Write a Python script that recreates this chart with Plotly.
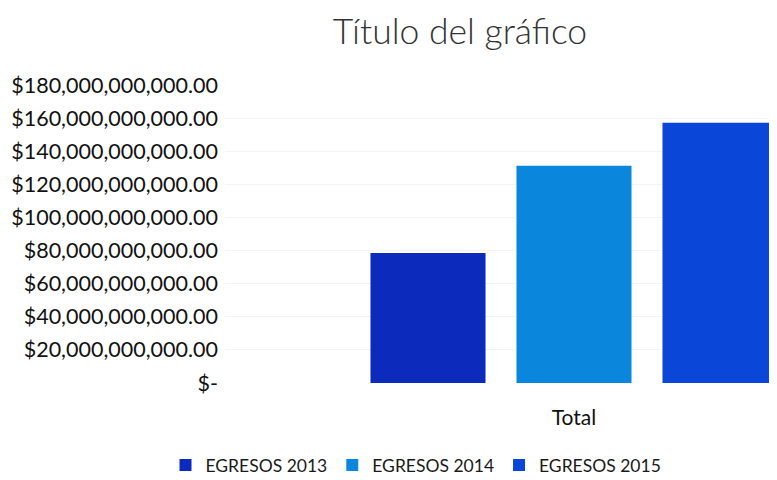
import plotly.graph_objects as go

categories = ["Total"]
series_names = ["EGRESOS 2013", "EGRESOS 2014", "EGRESOS 2015"]
series_values = [[78.5e9], [131.3e9], [157.2e9]]
series_colors = ["#0c2bbd", "#0a87dc", "#0a46d8"]
tick_vals = [0, 20e9, 40e9, 60e9, 80e9, 100e9, 120e9, 140e9, 160e9, 180e9]
tick_text = ["$-", "$20,000,000,000.00", "$40,000,000,000.00", "$60,000,000,000.00",
             "$80,000,000,000.00", "$100,000,000,000.00", "$120,000,000,000.00",
             "$140,000,000,000.00", "$160,000,000,000.00", "$180,000,000,000.00"]

FONT = "Lato"
OFF = 8  # page body margin

fig = go.Figure()
for name, vals, col in zip(series_names, series_values, series_colors):
    fig.add_trace(go.Bar(x=categories, y=vals, name=name, marker_color=col,
                         marker_line_width=0))

W, H = 777 - OFF, 480 - OFF
# plot area in page pixels
pl, pr, pt, pb = 225, 777, 85, 383
L, R, T, B = pl - OFF, 0, pt - OFF, H - (pb - OFF)
plot_w = W - L - R
plot_h = H - T - B
bargap = 0.2
group_px = 438.0
unit_px = group_px / (1 - bargap)
center_px = 574.0
x0 = (pl - center_px) / unit_px
x1 = (pr - center_px) / unit_px

fig.update_layout(
    width=W, height=H,
    margin=dict(l=L, r=R, t=T, b=B, autoexpand=False),
    paper_bgcolor="white", plot_bgcolor="white",
    barmode="group", bargap=bargap, bargroupgap=0.212,
    title=dict(text="Título del gráfico", x=(460 - OFF) / W, xref="container",
               xanchor="center", y=1 - 24 / H, yref="container", yanchor="middle",
               font=dict(family=FONT, size=35.5, color="#333333", weight=300)),
    showlegend=True,
    legend=dict(orientation="h", x=(416 - pl) / plot_w, xanchor="center",
                y=-(465 - pb) / plot_h, yanchor="middle",
                font=dict(family=FONT, size=17.5, color="#1a1a1a"),
                itemwidth=30, traceorder="normal"),
    xaxis=dict(type="category", range=[x0, x1], showgrid=False, showline=False,
               ticks="", tickfont=dict(family=FONT, size=21, color="#111111"),
               ticklabelstandoff=20),
    yaxis=dict(range=[0, 180e9], tickvals=tick_vals, ticktext=tick_text,
               showgrid=True, gridcolor="#f4f4f4", zeroline=False, showline=False,
               ticks="", tickfont=dict(family=FONT, size=21.5, color="#111111"),
               ticklabelstandoff=6),
)

fig.write_html("out.html")
